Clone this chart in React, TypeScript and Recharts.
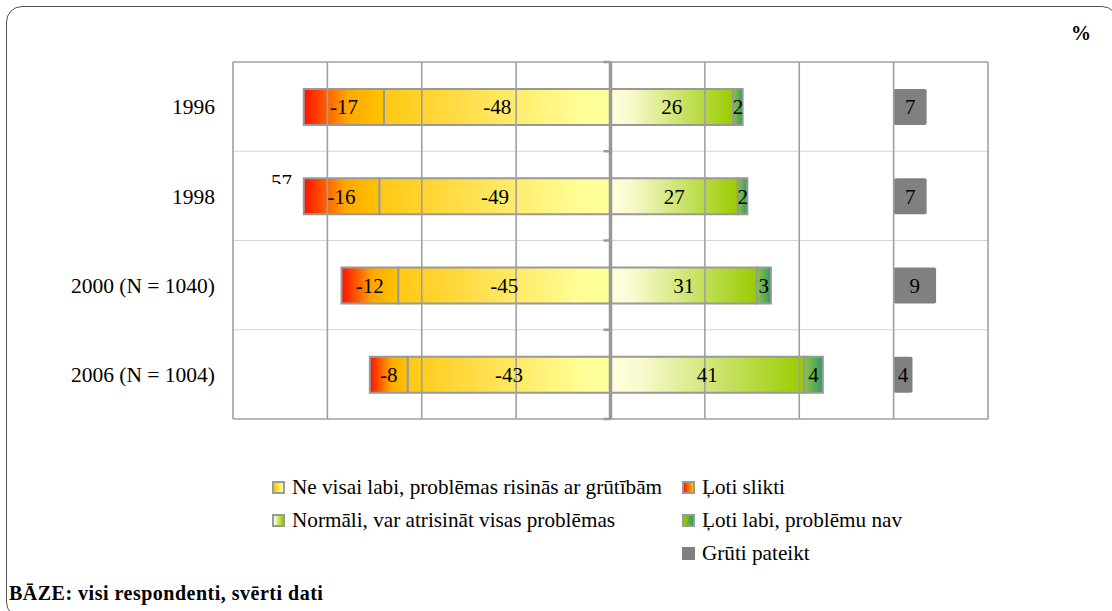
import React from "react";
import {
  BarChart,
  Bar,
  XAxis,
  YAxis,
  CartesianGrid,
  ReferenceLine,
  LabelList,
} from "recharts";

const CATEGORIES = ["1996", "1998", "2000 (N = 1040)", "2006 (N = 1004)"];
const LOTI_SLIKTI = [-17, -16, -12, -8];
const NE_VISAI_LABI = [-48, -49, -45, -43];
const NORMALI = [26, 27, 31, 41];
const LOTI_LABI = [2, 2, 3, 4];
const GRUTI_PATEIKT = [7, 7, 9, 4];
const X_TICKS = [-80, -60, -40, -20, 20, 40, 60, 80];
// "Grūti pateikt" column starts at this value on the x axis
const GRUTI_START = 60;

const rows = CATEGORIES.map((name, i) => ({
  name,
  neVisai: NE_VISAI_LABI[i],
  slikti: LOTI_SLIKTI[i],
  normali: NORMALI[i],
  labi: LOTI_LABI[i],
  gap: GRUTI_START - NORMALI[i] - LOTI_LABI[i],
  gruti: GRUTI_PATEIKT[i],
}));

const FONT = '"Liberation Serif", "Times New Roman", serif';

const legendItems = [
  { label: "Ne visai labi, problēmas risinās ar grūtībām", bg: "linear-gradient(to right, #ffc800, #ffff99)", border: true },
  { label: "Ļoti slikti", bg: "linear-gradient(to right, #ff1a00, #ffc000)", border: true },
  { label: "Normāli, var atrisināt visas problēmas", bg: "linear-gradient(to right, #ffffdd, #99cc00)", border: true },
  { label: "Ļoti labi, problēmu nav", bg: "linear-gradient(to right, #99cc00, #339966)", border: true },
  null,
  { label: "Grūti pateikt", bg: "#808080", border: false },
];

function ChartLegend() {
  return (
    <div
      style={{
        position: "absolute",
        left: 272,
        top: 471,
        display: "grid",
        gridTemplateColumns: "410px 300px",
        gridAutoRows: "33px",
        fontFamily: FONT,
        fontSize: 21.2,
        color: "#000",
      }}
    >
      {legendItems.map((it, i) =>
        it ? (
          <div key={i} style={{ display: "flex", alignItems: "center", whiteSpace: "nowrap" }}>
            <span
              style={{
                display: "inline-block",
                width: 13,
                height: 13,
                boxSizing: "border-box",
                border: it.border ? "2px solid #9a9a9a" : "none",
                background: it.bg,
                marginRight: 7,
              }}
            />
            {it.label}
          </div>
        ) : (
          <div key={i} />
        )
      )}
    </div>
  );
}

// band edges of the category axis, taken from the plot area
const bandEdges = (inner: boolean) => (p: any) => {
  const n = CATEGORIES.length;
  const out: number[] = [];
  for (let i = 0; i <= n; i++) {
    if (inner === (i > 0 && i < n)) out.push(p.offset.top + (i * p.offset.height) / n);
  }
  return out;
};

// small tick mark left of the zero line at each band edge
const zeroTick = (p: any) => {
  const mid = (p.x1 + p.x2) / 2;
  return (
    <line
      key={p.key}
      x1={mid - 7}
      x2={mid}
      y1={p.y1}
      y2={p.y2}
      stroke="#9a9a9a"
      strokeWidth={2.5}
    />
  );
};

const lbl = { fill: "#000", fontSize: 21, fontFamily: FONT };

export default function App() {
  return (
    <div
      style={{
        position: "absolute",
        left: 0,
        top: 0,
        width: 1112,
        height: 611,
        overflow: "hidden",
        background: "#fff",
        fontFamily: FONT,
      }}
    >
      <div
        style={{
          position: "absolute",
          left: 6,
          top: 6,
          width: 1110,
          height: 610,
          border: "1.5px solid #555",
          borderRadius: 16,
        }}
      />
      <BarChart
        width={1112}
        height={611}
        data={rows}
        layout="vertical"
        stackOffset="sign"
        barSize={36}
        margin={{ top: 62, right: 124, bottom: 192, left: 0 }}
        style={{ position: "absolute", left: 0, top: 0 }}
      >
        <defs>
          <linearGradient id="gSlikti" x1="0" y1="0" x2="1" y2="0">
            <stop offset="0" stopColor="#ff1000" />
            <stop offset="0.55" stopColor="#ffa800" />
            <stop offset="1" stopColor="#ffc400" />
          </linearGradient>
          <linearGradient id="gNeVisai" x1="0" y1="0" x2="1" y2="0">
            <stop offset="0" stopColor="#ffc814" />
            <stop offset="0.88" stopColor="#ffff99" />
            <stop offset="1" stopColor="#ffff99" />
          </linearGradient>
          <linearGradient id="gNormali" x1="0" y1="0" x2="1" y2="0">
            <stop offset="0" stopColor="#ffffdd" />
            <stop offset="0.15" stopColor="#fafad0" />
            <stop offset="1" stopColor="#99cc00" />
          </linearGradient>
          <linearGradient id="gLabi" x1="0" y1="0" x2="1" y2="0">
            <stop offset="0" stopColor="#8cc63f" />
            <stop offset="1" stopColor="#339966" />
          </linearGradient>
        </defs>
        <XAxis
          type="number"
          domain={[-80, 80]}
          height={0}
          tick={false}
          tickLine={false}
          axisLine={false}
        />
        <YAxis
          type="category"
          dataKey="name"
          width={233}
          tickLine={false}
          axisLine={false}
          tickMargin={12}
          tick={{ fill: "#000", fontSize: 21.5, fontFamily: FONT }}
        />
        <CartesianGrid
          vertical={false}
          horizontalCoordinatesGenerator={bandEdges(true)}
          stroke="#d4d4d4"
          strokeWidth={1.2}
        />
        <CartesianGrid
          vertical={false}
          horizontalCoordinatesGenerator={bandEdges(false)}
          stroke="#a0a0a0"
          strokeWidth={1.6}
        />
        {X_TICKS.map((t) => (
          <ReferenceLine key={"v" + t} x={t} stroke="#a0a0a0" strokeWidth={1.6} />
        ))}
        <Bar dataKey="neVisai" stackId="s" fill="url(#gNeVisai)" stroke="#999" strokeWidth={2} isAnimationActive={false}>
          <LabelList dataKey="neVisai" position="center" {...lbl} />
        </Bar>
        <Bar dataKey="slikti" stackId="s" fill="url(#gSlikti)" stroke="#999" strokeWidth={2} isAnimationActive={false}>
          <LabelList dataKey="slikti" position="center" {...lbl} />
        </Bar>
        <Bar dataKey="normali" stackId="s" fill="url(#gNormali)" stroke="#999" strokeWidth={2} isAnimationActive={false}>
          <LabelList dataKey="normali" position="center" {...lbl} />
        </Bar>
        <Bar dataKey="labi" stackId="s" fill="url(#gLabi)" stroke="#999" strokeWidth={2} isAnimationActive={false}>
          <LabelList dataKey="labi" position="center" {...lbl} />
        </Bar>
        <Bar dataKey="gap" stackId="s" fill="none" stroke="none" isAnimationActive={false} />
        <Bar dataKey="gruti" stackId="s" fill="#808080" radius={2} isAnimationActive={false}>
          <LabelList dataKey="gruti" position="center" {...lbl} />
        </Bar>
        <ReferenceLine x={0} stroke="#999" strokeWidth={3.5} />
        <CartesianGrid
          vertical={false}
          horizontal={zeroTick}
          horizontalCoordinatesGenerator={(p: any) => [...bandEdges(false)(p), ...bandEdges(true)(p)]}
        />
      </BarChart>
      <ChartLegend />
      <div
        style={{
          position: "absolute",
          left: 1071,
          top: 22,
          fontWeight: "bold",
          fontSize: 20,
          color: "#000",
        }}
      >
        %
      </div>
      <div
        style={{
          position: "absolute",
          left: 271,
          top: 170,
          height: 14,
          overflow: "hidden",
          fontSize: 21,
          lineHeight: "24px",
          color: "#000",
        }}
      >
        <div>57</div>
      </div>
      <div
        style={{
          position: "absolute",
          left: 9,
          top: 582,
          fontWeight: "bold",
          fontSize: 20,
          letterSpacing: 0.5,
          color: "#000",
        }}
      >
        BĀZE: visi respondenti, svērti dati
      </div>
    </div>
  );
}
